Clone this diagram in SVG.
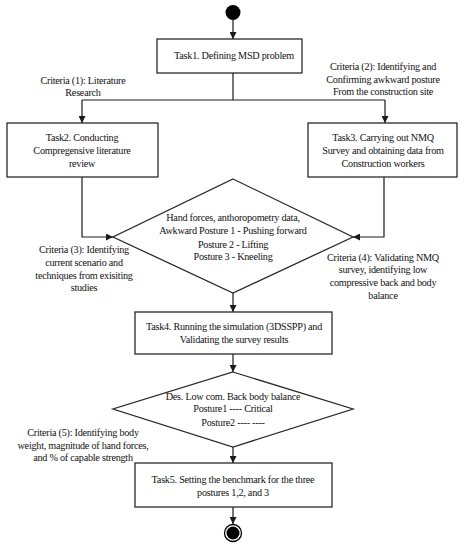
<svg xmlns="http://www.w3.org/2000/svg" width="465" height="550" viewBox="0 0 465 550">
<defs>
<marker id="ah" viewBox="0 0 10 10" refX="10" refY="5" markerWidth="7" markerHeight="7" orient="auto" markerUnits="userSpaceOnUse">
<path d="M0,0 L10,5 L0,10 z" fill="#1a1a1a"/>
</marker>
</defs>
<style>
.box{fill:#fff;stroke:#2a2a2a;stroke-width:1.3}
.c{fill:none;stroke:#1a1a1a;stroke-width:1.2}
.t{font-family:'Liberation Serif','Times New Roman',serif;font-size:10.2px;letter-spacing:-0.25px;fill:#111;text-anchor:middle}
</style>
<rect width="465" height="550" fill="#fff"/>
<g id="connectors">
<line class="c" x1="233" y1="20" x2="233" y2="39" marker-end="url(#ah)"/>
<polyline class="c" points="233,73 233,100"/>
<polyline class="c" points="82,100 385,100"/>
<line class="c" x1="82" y1="100" x2="82" y2="123" marker-end="url(#ah)"/>
<line class="c" x1="385" y1="100" x2="385" y2="123" marker-end="url(#ah)"/>
<polyline class="c" points="82,177 82,237 113,237" marker-end="url(#ah)"/>
<polyline class="c" points="384,177 384,237 353,237" marker-end="url(#ah)"/>
<line class="c" x1="233" y1="293" x2="233" y2="312" marker-end="url(#ah)"/>
<line class="c" x1="233" y1="354" x2="233" y2="372" marker-end="url(#ah)"/>
<line class="c" x1="233" y1="447" x2="233" y2="463" marker-end="url(#ah)"/>
<line class="c" x1="233" y1="507" x2="233" y2="524" marker-end="url(#ah)"/>
</g>
<g class="t">
<g id="start"><circle cx="233" cy="12.5" r="7.5" fill="#000"/></g>
<g id="task1"><rect class="box" x="157" y="39" width="145" height="34"/><text x="234" y="59">Task1. Defining MSD problem</text></g>
<g id="crit1"><text x="83" y="84">Criteria (1): Literature</text><text x="83" y="96">Research</text></g>
<g id="crit2"><text x="383" y="70">Criteria (2): Identifying and</text><text x="383" y="83">Confirming awkward posture</text><text x="383" y="95">From the construction site</text></g>
<g id="task2"><rect class="box" x="7" y="123" width="151" height="54"/><text x="82" y="141">Task2. Conducting</text><text x="82" y="154">Compregensive literature</text><text x="82" y="167">review</text></g>
<g id="task3"><rect class="box" x="308" y="123" width="149" height="54"/><text x="383" y="141">Task3. Carrying out NMQ</text><text x="383" y="154">Survey and obtaining data from</text><text x="383" y="167">Construction workers</text></g>
<g id="decision1"><polygon class="box" points="233,179 353,237 233,293 113,237"/><text x="233" y="221">Hand forces, anthoropometry data,</text><text x="233" y="234">Awkward Posture 1 - Pushing forward</text><text x="233" y="248">Posture 2 - Lifting</text><text x="233" y="260">Posture 3 - Kneeling</text></g>
<g id="crit3"><text x="84" y="253">Criteria (3): Identifying</text><text x="84" y="266">current scenario and</text><text x="84" y="279">techniques from exisiting</text><text x="84" y="291">studies</text></g>
<g id="crit4"><text x="383" y="261">Criteria (4): Validating NMQ</text><text x="383" y="273">survey, identifying low</text><text x="383" y="286">compressive back and body</text><text x="383" y="299">balance</text></g>
<g id="task4"><rect class="box" x="135" y="312" width="197" height="42"/><text x="234" y="330">Task4. Running the simulation (3DSSPP) and</text><text x="234" y="343">Validating the survey results</text></g>
<g id="decision2"><polygon class="box" points="233,372 353,409 233,447 113,409"/><text x="233" y="400">Des. Low com. Back body balance</text><text x="233" y="412">Posture1 ---- Critical</text><text x="233" y="426">Posture2 ---- ----</text></g>
<g id="crit5"><text x="83" y="436">Criteria (5): Identifying body</text><text x="83" y="449">weight, magnitude of hand forces,</text><text x="83" y="461">and % of capable strength</text></g>
<g id="task5"><rect class="box" x="135" y="463" width="197" height="44"/><text x="233" y="483">Task5. Setting the benchmark for the three</text><text x="233" y="496">postures 1,2, and 3</text></g>
<g id="end"><circle cx="233" cy="533" r="8.5" fill="#fff" stroke="#000" stroke-width="1.3"/><circle cx="233" cy="533" r="6.5" fill="#000"/></g>
</g>
</svg>
